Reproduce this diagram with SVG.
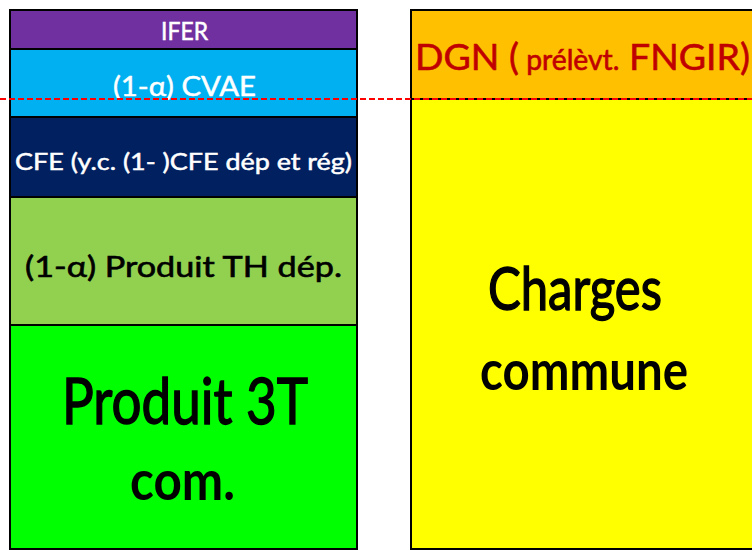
<svg xmlns="http://www.w3.org/2000/svg" width="752" height="550" viewBox="0 0 752 550">
  <style>
    .box { stroke: #000; stroke-width: 2; }
    .t { font-family: Lato, "Noto Sans", "Liberation Sans", sans-serif; text-anchor: middle; }
    .w { fill: #fff; stroke: #fff; stroke-width: 0.5; }
    .k { fill: #000; stroke: #000; stroke-width: 0.6; }
    .r { fill: #C00000; stroke: #C00000; stroke-width: 0.6; }
    .big { stroke-width: 1.4; }
    .b { font-weight: bold; stroke-width: 0; }
  </style>
  <rect x="0" y="0" width="752" height="550" fill="#fff"/>
  <g id="ifer">
    <rect class="box" x="10" y="10" width="347" height="39" fill="#7030A0"/>
    <text class="t w" x="184.5" y="40" font-size="25" textLength="47" lengthAdjust="spacingAndGlyphs">IFER</text>
  </g>
  <g id="cvae">
    <rect class="box" x="10" y="49" width="347" height="68" fill="#00B0F0"/>
    <text class="t w" x="184.5" y="96" font-size="27" textLength="143" lengthAdjust="spacingAndGlyphs">(1-α) CVAE</text>
  </g>
  <g id="cfe">
    <rect class="box" x="10" y="117" width="347" height="80" fill="#002060"/>
    <text class="t w" x="183.5" y="170" font-size="23" textLength="337" lengthAdjust="spacingAndGlyphs">CFE (y.c. (1- )CFE dép et rég)</text>
  </g>
  <g id="th">
    <rect class="box" x="10" y="197" width="347" height="128" fill="#92D050"/>
    <text class="t k" x="183.5" y="277" font-size="28" textLength="317" lengthAdjust="spacingAndGlyphs">(1-α) Produit TH dép.</text>
  </g>
  <g id="produit3t">
    <rect class="box" x="10" y="325" width="347" height="224" fill="#00FF00"/>
    <text class="t k big" x="185" y="424" font-size="64" textLength="246" lengthAdjust="spacingAndGlyphs">Produit 3T</text>
    <text class="t k b" x="182.5" y="500" font-size="55" textLength="105" lengthAdjust="spacingAndGlyphs">com.</text>
  </g>
  <g id="dgn">
    <rect class="box" x="411" y="10" width="350" height="89" fill="#FFC000"/>
    <text class="t r" x="582.5" y="70" font-size="37" textLength="335" lengthAdjust="spacingAndGlyphs">DGN (<tspan font-size="28"> prélèvt.</tspan> FNGIR)</text>
  </g>
  <g id="charges">
    <rect class="box" x="411" y="99" width="350" height="450" fill="#FFFF00"/>
    <text class="t k big" x="575" y="310" font-size="60" textLength="174" lengthAdjust="spacingAndGlyphs">Charges</text>
    <text class="t k b" x="584" y="390" font-size="55" textLength="208" lengthAdjust="spacingAndGlyphs">commune</text>
  </g>
  <g id="connectors">
    <line x1="0" y1="99" x2="752" y2="99" stroke="#FF0000" stroke-width="2" stroke-dasharray="6 3"/>
  </g>
</svg>
